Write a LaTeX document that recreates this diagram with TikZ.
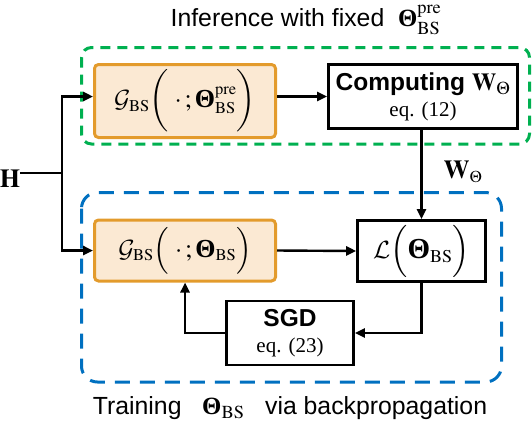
\documentclass[tikz,border=0pt]{standalone}
\usepackage{amsmath}
\usepackage{mathptmx}
\usepackage[no-math]{fontspec}
\setmainfont{Liberation Sans}
\newfontfamily\tnr{Liberation Serif}
\newcommand\bTheta{\mbox{\tnr\bfseries Θ}}
\DeclareMathAlphabet{\mathcal}{OMS}{cmsy}{m}{n}
\DeclareMathSizes{26}{26}{16.5}{12}
\DeclareMathSizes{29}{29}{18}{13}
\usetikzlibrary{arrows.meta}
\definecolor{orB}{HTML}{E39B2C}
\definecolor{orF}{HTML}{FBE9D3}
\definecolor{grD}{HTML}{00B050}
\definecolor{blD}{HTML}{0070C0}
\tikzset{
  obox/.style={draw=orB,fill=orF,line width=3pt,rounded corners=4pt,inner sep=0pt},
  kbox/.style={draw=black,line width=2.6pt,fill=white,inner sep=0pt},
  conn/.style={line width=2.4pt,-{Triangle[length=10pt,width=9pt]}},
  wire/.style={line width=2.4pt},
  sansbig/.style={font=\fontsize{24.8}{29}\selectfont},
  mathbig/.style={font=\fontsize{26}{31}\selectfont},
  mathhuge/.style={font=\fontsize{29}{34}\selectfont},
  twoline/.style={font=\fontsize{24.5}{26}\selectfont,align=center},
  greenframe/.style={draw=grD,line width=3pt,dash pattern=on 10pt off 7pt,rounded corners=10pt},
  blueframe/.style={draw=blD,line width=3pt,dash pattern=on 15pt off 10pt,rounded corners=16pt},
}
\begin{document}
\begin{tikzpicture}[x=1pt,y=-1pt]
\useasboundingbox (0,0) rectangle (532,424);
\draw[greenframe] (81.5,47.5) rectangle (529.5,144);
\draw[blueframe] (81.5,192.5) rectangle (501.5,382);

\node[obox,mathbig,minimum width=181pt,minimum height=73pt] (gtop) at (185,101)
  {$\mathcal{G}_{\mathrm{BS}}\biggl(\;\cdot\,;\bTheta^{\mathrm{pre}}_{\mathrm{BS}}\biggr)$};
\node[kbox,twoline,minimum width=189pt,minimum height=64pt] (comp) at (423,96.5)
  {\bfseries Computing $\mathbf{W}_{\Theta}$\\
   \tnr\mdseries\fontsize{21}{24}\selectfont eq. (12)};
\node[obox,mathbig,minimum width=181pt,minimum height=61pt] (gbot) at (185,250.5)
  {$\mathcal{G}_{\mathrm{BS}}\Bigl(\;\cdot\,;\bTheta_{\mathrm{BS}}\Bigr)$};
\node[kbox,mathhuge,minimum width=128pt,minimum height=61pt] (loss) at (421.5,251)
  {$\mathcal{L}\Bigl(\bTheta_{\mathrm{BS}}\Bigr)$};
\node[kbox,twoline,minimum width=127pt,minimum height=64pt] (sgd) at (290,333)
  {\bfseries SGD\\
   \tnr\mdseries\fontsize{21}{24}\selectfont eq. (23)};

\node[inner sep=0pt,font=\fontsize{26}{30}\selectfont] (H) at (10,179) {$\mathbf{H}$};
\coordinate (hj) at (62,173);
\node[inner sep=0pt,font=\fontsize{26}{30}\selectfont] (wl) at (463,172) {$\mathbf{W}_{\Theta}$};

\node[sansbig,inner sep=0pt] (t1) at (306,20)
  {Inference with fixed\ \ $\bTheta^{\mathrm{pre}}_{\mathrm{BS}}$};
\node[sansbig,inner sep=0pt] (t2) at (290,408)
  {Training\ \ \ $\bTheta_{\mathrm{BS}}$\ \ \ via backpropagation};

\draw[wire] (H.east |- hj) -- (hj);
\draw[conn] (hj) |- (gtop.west |- comp.west);
\draw[conn] (hj) |- (gbot.west);
\draw[conn] (gtop.east |- comp.west) -- (comp.west);
\draw[conn] (loss.north |- comp.south) -- (loss.north);
\draw[conn] (gbot.east) -- (loss.west);
\draw[conn] (loss.south) |- (sgd.east);
\draw[conn] (sgd.west) -| (gbot.south);
\end{tikzpicture}
\end{document}
